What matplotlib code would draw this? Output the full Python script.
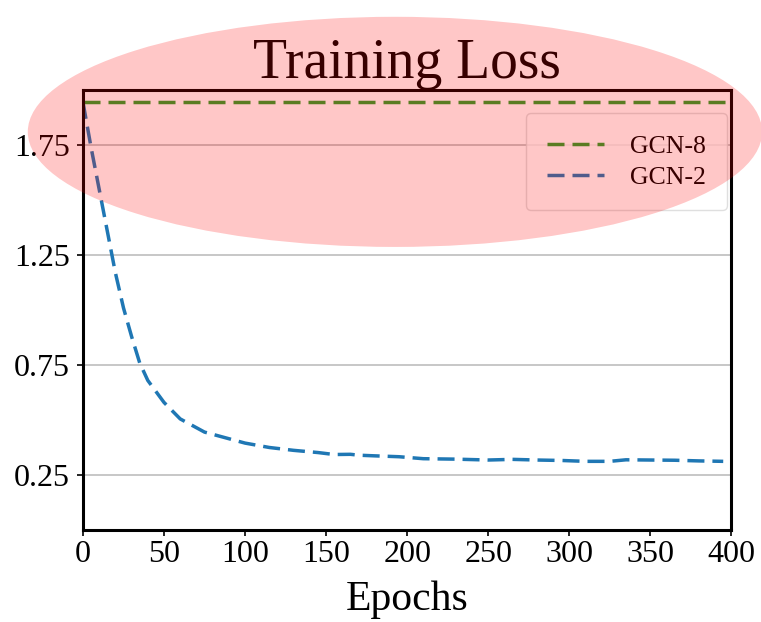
import matplotlib
matplotlib.use("Agg")
import matplotlib.pyplot as plt
from matplotlib.patches import Ellipse

plt.rcParams['font.family'] = ['Liberation Serif', 'DejaVu Serif']

# Training loss curves
epochs_gcn2 = [0, 5, 10, 15, 20, 25, 30, 35, 40, 50, 60, 75, 90, 100, 115, 130,
               145, 155, 165, 170, 180, 195, 210, 230, 250, 265, 280, 295, 310,
               325, 335, 350, 365, 380, 395]
loss_gcn2 = [1.946, 1.74, 1.55, 1.36, 1.17, 1.01, 0.88, 0.76, 0.68, 0.58, 0.505,
             0.445, 0.415, 0.395, 0.375, 0.362, 0.352, 0.343, 0.344, 0.340, 0.337,
             0.333, 0.324, 0.322, 0.318, 0.321, 0.318, 0.316, 0.312, 0.312, 0.319,
             0.318, 0.317, 0.314, 0.312]
epochs_gcn8 = [0, 400]
loss_gcn8 = [1.946, 1.946]

x_ticks = [0, 50, 100, 150, 200, 250, 300, 350, 400]
y_ticks = [0.25, 0.75, 1.25, 1.75]

fig = plt.figure(figsize=(7.61, 6.22), dpi=100)
ax = fig.add_axes([0.109, 0.148, 0.852, 0.707])

dash = (0, (4.9, 2.3))
ax.plot(epochs_gcn8, loss_gcn8, color='#2ca02c', lw=2.5, linestyle=dash, label='GCN-8')
ax.plot(epochs_gcn2, loss_gcn2, color='#1f77b4', lw=2.5, linestyle=dash, label='GCN-2')

ax.set_xlim(0, 400)
ax.set_ylim(0.0, 2.0)
ax.set_xticks(x_ticks)
ax.set_yticks(y_ticks)
ax.set_yticklabels([f'{v:.2f}' for v in y_ticks])
ax.tick_params(labelsize=23, length=4.3, width=1.2)
ax.tick_params(axis='y', pad=5)
ax.tick_params(axis='x', pad=3)
ax.yaxis.grid(True, color='#bdbdbd', lw=1.2)
ax.set_axisbelow(True)
for s in ax.spines.values():
    s.set_linewidth(2.2)
    s.set_color('black')

ax.set_title('Training Loss', fontsize=40, pad=4)
ax.set_xlabel('Epochs', fontsize=30, labelpad=8)

leg = ax.legend(loc='upper right', fontsize=18.5, handlelength=2.2,
                handletextpad=1.0, borderpad=0.85, labelspacing=0.3,
                borderaxespad=0, bbox_to_anchor=(0.994, 0.948))
leg.get_frame().set_edgecolor('#d8d8d8')

# Highlight ellipse over the top of the chart
ell = Ellipse((0.519, 0.788), 0.965, 0.37, transform=fig.transFigure,
              facecolor='red', alpha=0.22, edgecolor='none', zorder=100)
fig.add_artist(ell)

fig.savefig('out.png', dpi=100)
